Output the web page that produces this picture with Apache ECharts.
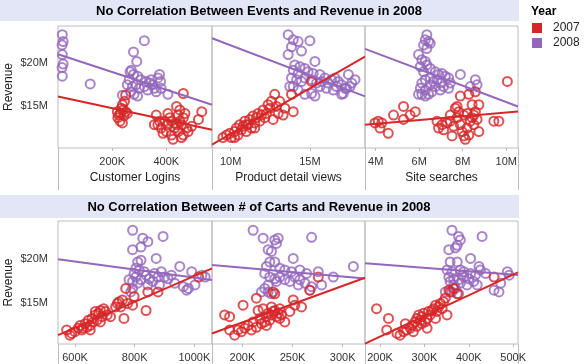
<!DOCTYPE html>
<html>
<head>
<meta charset="utf-8">
<script src="https://cdn.jsdelivr.net/npm/echarts@6/dist/echarts.min.js"></script>
<style>
html,body{margin:0;padding:0;background:#fff;}
#c{width:584px;height:364px;}
</style>
</head>
<body>
<div id="c"></div>
<script>
// ---------- data (x in K or M units, revenue in $M) ----------
var years = ['2007', '2008'];
var rowTitles = ['No Correlation Between Events and Revenue in 2008', 'No Correlation Between # of Carts and Revenue in 2008'];
var measureNames = ['Customer Logins', 'Product detail views', 'Site searches', '', '', ''];
var revenueTicks = [15, 20];
var loginsTicks = [200, 400];
var viewsTicks = [10, 15];
var searchTicks = [4, 6, 8, 10];
var carts1Ticks = [600, 800, 1000];
var carts2Ticks = [200, 250, 300];
var carts3Ticks = [200, 300, 400, 500];

var logins2007 = [[250,16.3],[246,15.6],[238,15.2],[241,14.6],[231,14.2],[225,14.0],[221,13.7],[229,13.3],[238,13.1],[250,14.4],[256,14.2],[244,13.9],[219,14.4],[234,14.8],[363,14.0],[369,12.9],[381,12.5],[394,13.3],[400,12.1],[406,12.9],[413,13.7],[419,11.7],[425,11.2],[431,12.5],[438,15.0],[444,14.0],[450,13.3],[456,12.9],[431,13.1],[463,13.7],[469,14.2],[475,12.5],[481,12.1],[494,12.7],[463,11.7],[444,12.1],[406,14.2],[388,11.9],[456,11.4],[531,14.4],[519,13.5],[463,16.5],[419,13.3],[438,12.9],[375,13.3],[356,12.9],[450,14.6]];
var logins2008 = [[16,23.3],[19,22.5],[15,22.1],[16,21.0],[19,19.9],[15,19.5],[16,18.5],[119,17.6],[319,22.6],[279,21.3],[291,20.2],[271,19.2],[266,19.0],[279,18.7],[294,18.5],[256,17.5],[275,17.3],[288,17.5],[300,17.1],[269,16.7],[281,16.4],[294,16.2],[238,16.3],[263,18.1],[306,18.1],[325,17.9],[319,17.3],[338,17.7],[344,18.1],[350,17.5],[356,17.1],[369,18.3],[375,18.7],[379,17.9],[363,16.7],[381,17.1],[406,16.4],[331,16.9]];
var views2007 = [[9.51,11.4],[9.73,11.7],[9.94,11.9],[10.04,11.4],[10.25,12.1],[10.36,12.5],[10.46,11.7],[10.57,12.9],[10.68,12.3],[10.78,12.7],[10.89,13.3],[10.99,12.1],[11.10,12.9],[11.20,13.5],[11.31,12.5],[11.41,13.9],[11.52,13.1],[11.62,13.7],[11.73,14.2],[11.84,13.3],[11.94,14.0],[12.05,14.6],[12.15,13.7],[12.26,14.2],[12.36,15.2],[12.47,14.8],[12.57,15.6],[12.68,13.5],[12.78,16.4],[12.89,15.0],[13.0,14.2],[13.10,15.6],[13.31,14.0],[13.42,14.8],[13.84,16.4],[13.95,14.4],[15.11,17.9],[10.25,11.4],[10.99,12.9],[11.52,12.5]];
var views2008 = [[13.63,23.3],[13.95,22.7],[14.26,22.5],[15.0,22.6],[13.84,21.9],[14.47,21.4],[13.63,21.0],[14.05,19.8],[14.37,19.6],[14.68,19.4],[13.95,19.2],[14.26,18.8],[14.89,19.0],[15.21,18.8],[15.32,20.2],[15.63,18.7],[13.84,18.3],[14.16,18.1],[14.47,17.9],[14.68,18.3],[15.11,18.1],[15.42,17.7],[15.74,17.9],[15.95,18.3],[16.16,17.7],[16.37,18.1],[16.58,18.3],[16.79,17.9],[17.0,17.5],[17.22,17.1],[17.43,18.7],[17.64,17.7],[17.85,18.1],[17.53,17.3],[17.0,16.4],[16.48,16.9],[16.05,17.1],[15.63,17.3],[15.11,16.5],[14.68,16.4],[14.26,16.9],[13.95,17.3],[13.73,17.3],[15.32,16.2],[16.69,17.3],[17.11,16.5],[17.32,17.1]];
var search2007 = [[10.05,17.9],[3.97,13.1],[4.12,13.3],[4.28,13.1],[4.2,12.5],[4.58,11.9],[4.82,14.0],[5.28,15.0],[5.28,13.5],[5.58,14.0],[5.82,14.4],[6.82,13.3],[6.89,12.5],[7.05,12.9],[7.12,12.3],[7.28,13.1],[7.43,13.3],[7.51,11.6],[7.58,12.7],[7.66,14.8],[7.74,13.7],[7.82,14.4],[7.89,12.9],[7.97,12.1],[8.05,11.6],[8.12,11.2],[8.2,12.5],[8.28,11.7],[8.35,13.3],[8.43,13.7],[8.51,14.0],[8.58,14.4],[8.66,13.5],[8.74,12.1],[8.43,15.2],[8.58,16.7],[8.28,16.4],[7.89,16.2],[8.74,15.2],[7.74,15.0],[8.05,14.0],[8.2,14.2],[8.51,12.9],[9.43,13.3],[9.66,13.3],[7.43,14.0]];
var search2008 = [[6.35,23.3],[6.28,22.7],[6.43,22.5],[6.51,22.3],[6.2,22.1],[6.35,21.7],[5.97,21.0],[6.12,20.4],[6.28,20.2],[6.05,19.6],[6.2,19.0],[6.35,19.8],[6.51,19.4],[6.74,19.0],[6.89,18.7],[7.05,18.8],[7.2,18.5],[7.35,18.3],[7.43,17.7],[7.35,17.1],[7.12,17.3],[6.97,17.7],[6.66,17.9],[6.51,18.3],[6.28,18.1],[6.12,17.7],[6.05,17.1],[6.28,16.9],[6.51,17.5],[6.74,17.3],[6.97,16.9],[6.82,18.1],[6.43,16.4],[6.12,16.4],[5.97,16.4],[7.89,18.7],[8.58,18.1],[8.35,17.3],[8.66,17.5],[6.58,16.7],[6.28,16.2]];
var carts1_2007 = [[572,12.0],[583,11.4],[589,11.6],[600,11.8],[611,12.2],[617,12.5],[623,12.0],[634,12.7],[640,12.3],[645,13.1],[651,12.5],[657,13.3],[662,12.9],[668,13.7],[674,13.1],[679,13.9],[685,14.2],[691,13.5],[696,14.4],[702,14.1],[708,13.7],[719,13.5],[736,14.6],[742,15.0],[747,15.2],[753,14.6],[759,15.4],[764,13.3],[770,16.7],[776,15.0],[793,14.8],[798,15.8],[838,14.2],[844,16.3],[878,16.3],[1014,18.0],[651,12.0],[685,12.9],[668,14.1],[628,12.2]];
var carts1_2008 = [[793,23.3],[827,22.4],[844,22.0],[895,22.6],[821,21.4],[793,21.1],[872,20.1],[810,19.7],[821,19.9],[804,19.0],[815,18.8],[832,18.6],[798,18.4],[781,17.7],[793,17.5],[804,18.0],[810,17.3],[821,17.7],[838,18.2],[849,17.8],[861,17.5],[878,18.0],[889,18.6],[900,18.0],[912,17.8],[923,18.2],[934,17.3],[951,19.2],[963,16.9],[974,16.5],[980,16.7],[991,18.6],[1002,17.1],[1025,18.2],[1036,18.0],[883,17.1],[844,17.1],[866,18.4],[793,16.7],[787,16.3]];
var carts2_2007 = [[275.7,18.0],[267.3,16.5],[230.7,16.3],[232.3,16.1],[200.7,14.8],[214,15.6],[182.3,13.7],[187.3,13.5],[187.3,12.0],[192.3,11.4],[195.7,12.0],[199,11.8],[202.3,12.2],[205.7,12.5],[209,12.0],[210.7,12.9],[214,12.3],[217.3,13.3],[219,12.7],[222.3,12.9],[224,13.5],[225.7,13.9],[227.3,13.1],[229,13.7],[230.7,14.1],[232.3,14.2],[234,13.5],[235.7,13.9],[237.3,14.4],[239,13.7],[242.3,12.9],[247.3,14.1],[250.7,15.4],[252.3,14.8],[259,14.6],[220.7,14.4],[229,14.6],[215.7,14.2],[224,12.5],[237.3,13.3]];
var carts2_2008 = [[210.7,23.3],[220.7,22.4],[232.3,22.2],[235.7,22.4],[234,21.8],[225.7,21.1],[229,20.9],[250.7,20.1],[269,22.5],[227.3,19.7],[232.3,19.7],[224,19.2],[237.3,19.0],[242.3,18.8],[249,18.6],[257.3,18.8],[264,18.4],[275.7,18.6],[310.7,19.2],[290.7,18.0],[222.3,18.4],[227.3,18.0],[232.3,17.8],[234,17.5],[225.7,17.1],[222.3,16.7],[219,16.3],[225.7,16.3],[229,16.1],[242.3,17.7],[247.3,17.5],[252.3,18.0],[257.3,17.7],[262.3,17.3],[269,16.9],[279,17.1],[255.7,17.1],[267.3,16.5],[237.3,18.0]];
var carts3_2007 = [[192,14.4],[219,13.3],[215,12.0],[238,11.6],[245,11.4],[253,11.8],[260,12.0],[257,12.7],[268,12.2],[272,12.5],[279,12.9],[283,13.3],[287,13.7],[291,13.1],[294,13.5],[298,13.9],[302,12.9],[306,12.2],[309,14.1],[313,13.7],[317,14.2],[321,14.4],[325,14.8],[328,14.1],[336,15.0],[340,14.4],[343,15.2],[347,15.6],[355,16.5],[358,16.3],[366,16.7],[374,16.1],[351,13.7],[306,13.3],[294,12.7],[275,11.8],[457,18.0],[325,13.3],[283,12.4],[332,14.6]];
var carts3_2008 = [[362,23.3],[377,22.6],[381,22.2],[374,21.6],[430,22.6],[355,21.1],[370,21.3],[404,20.1],[358,19.7],[374,19.7],[351,18.8],[362,18.6],[381,18.8],[389,18.6],[423,19.2],[415,18.2],[355,18.0],[366,17.8],[377,17.7],[389,18.0],[400,17.8],[411,17.5],[419,17.1],[396,17.1],[381,17.3],[358,17.5],[347,16.3],[362,16.3],[370,16.7],[377,16.1],[487,18.6],[491,18.2],[472,17.3],[457,16.5],[468,16.3],[438,18.4],[385,18.2],[426,18.8],[404,18.4],[366,17.1]];

// trend line end points
var loginsTrend2007 = [[0,16.16],[569,12.32]];
var loginsTrend2008 = [[0,21.04],[569,15.2]];
var viewsTrend2007 = [[8.82,10.59],[18.48,20.77]];
var viewsTrend2008 = [[8.82,22.88],[18.48,16.16]];
var searchTrend2007 = [[3.51,12.9],[10.54,14.43]];
var searchTrend2008 = [[3.51,21.65],[10.54,15.0]];
var carts1Trend2007 = [[543,11.4],[1059,18.98]];
var carts1Trend2008 = [[543,20.0],[1059,17.65]];
var carts2Trend2007 = [[169.7,11.59],[322.3,17.92]];
var carts2Trend2008 = [[169.7,19.36],[322.3,17.84]];
var carts3Trend2007 = [[166,10.45],[511,18.52]];
var carts3Trend2008 = [[166,19.55],[511,18.22]];

// ---------- layout / styling ----------
var RED = '#d62728', PURPLE = '#9467bd', GRAY = '#bcbcbc';
var FONT = '"Liberation Sans", Arial, sans-serif';
var colLeft = [58, 212, 365], colW = [154, 153, 153];
var rowTop = [26, 221], rowH = [122, 123];
var yRange = [[10.2, 24.3], [10.4, 24.35]];

var panels = [
  {row:0,col:0,min:0,max:569,ticks:loginsTicks,unit:'K',d7:logins2007,d8:logins2008,t7:loginsTrend2007,t8:loginsTrend2008},
  {row:0,col:1,min:8.82,max:18.48,ticks:viewsTicks,unit:'M',d7:views2007,d8:views2008,t7:viewsTrend2007,t8:viewsTrend2008},
  {row:0,col:2,min:3.51,max:10.54,ticks:searchTicks,unit:'M',d7:search2007,d8:search2008,t7:searchTrend2007,t8:searchTrend2008},
  {row:1,col:0,min:543,max:1059,ticks:carts1Ticks,unit:'K',d7:carts1_2007,d8:carts1_2008,t7:carts1Trend2007,t8:carts1Trend2008},
  {row:1,col:1,min:169.7,max:322.3,ticks:carts2Ticks,unit:'K',d7:carts2_2007,d8:carts2_2008,t7:carts2Trend2007,t8:carts2Trend2008},
  {row:1,col:2,min:166,max:511,ticks:carts3Ticks,unit:'K',d7:carts3_2007,d8:carts3_2008,t7:carts3Trend2007,t8:carts3Trend2008}
];

var grids = [], xAxes = [], yAxes = [], series = [];
panels.forEach(function (p, i) {
  grids.push({left: colLeft[p.col], top: rowTop[p.row], width: colW[p.col], height: rowH[p.row],
    show: true, borderColor: GRAY, borderWidth: 1, containLabel: false});
  xAxes.push({type: 'value', gridIndex: i, min: p.min, max: p.max,
    name: measureNames[i], nameLocation: 'middle', nameGap: 24,
    nameTextStyle: {fontSize: 12, color: '#222', fontFamily: FONT},
    axisLine: {show: false}, splitLine: {show: false},
    axisTick: {show: true, length: 3, customValues: p.ticks, lineStyle: {color: GRAY}},
    axisLabel: {customValues: p.ticks, margin: 8, fontSize: 11, color: '#333', fontFamily: FONT,
      formatter: (function (u) { return function (v) { return v + u; }; })(p.unit)}});
  yAxes.push({type: 'value', gridIndex: i, min: yRange[p.row][0], max: yRange[p.row][1],
    name: p.col === 0 ? 'Revenue' : '', nameLocation: 'middle', nameGap: 43, nameRotate: 90,
    nameTextStyle: {fontSize: 12, color: '#222', fontFamily: FONT},
    axisLine: {show: false}, splitLine: {show: false}, axisTick: {show: false},
    axisLabel: {show: p.col === 0, customValues: revenueTicks, margin: 10, fontSize: 11, color: '#333', fontFamily: FONT,
      formatter: function (v) { return '$' + v + 'M'; }}});
  [[p.d8, PURPLE, years[1]], [p.d7, RED, years[0]]].forEach(function (s) {
    series.push({type: 'scatter', name: s[2], xAxisIndex: i, yAxisIndex: i, data: s[0],
      symbol: 'circle', symbolSize: 9, silent: true,
      itemStyle: {color: 'rgba(0,0,0,0)', borderColor: s[1], borderWidth: 2}});
  });
  [[p.t8, PURPLE, years[1]], [p.t7, RED, years[0]]].forEach(function (s) {
    series.push({type: 'line', name: s[2] + ' trend', xAxisIndex: i, yAxisIndex: i, data: s[0],
      showSymbol: false, symbol: 'none', silent: true, z: 3,
      lineStyle: {color: s[1], width: 2}});
  });
});

var graphics = [
  {type: 'rect', shape: {x: 0, y: 0, width: 519, height: 21}, style: {fill: '#e3e6f7'}, silent: true},
  {type: 'rect', shape: {x: 0, y: 195, width: 519, height: 23}, style: {fill: '#e3e6f7'}, silent: true},
  {type: 'text', x: 259, y: 11, style: {text: rowTitles[0], textAlign: 'center', textVerticalAlign: 'middle', font: 'bold 13px ' + FONT, fill: '#000'}, silent: true},
  {type: 'text', x: 259, y: 207, style: {text: rowTitles[1], textAlign: 'center', textVerticalAlign: 'middle', font: 'bold 13px ' + FONT, fill: '#000'}, silent: true},
  {type: 'text', x: 531, y: 12, style: {text: 'Year', textAlign: 'left', textVerticalAlign: 'middle', font: 'bold 12px ' + FONT, fill: '#000'}, silent: true}
];
// legend swatches
[[RED, years[0]], [PURPLE, years[1]]].forEach(function (l, k) {
  graphics.push({type: 'rect', shape: {x: 532, y: 23 + k * 15, width: 10, height: 10}, style: {fill: l[0]}, silent: true});
  graphics.push({type: 'text', x: 553, y: 28 + k * 15, style: {text: l[1], textAlign: 'left', textVerticalAlign: 'middle', font: '12px ' + FONT, fill: '#222'}, silent: true});
});
[58, 212, 365, 518].forEach(function (x) {
  graphics.push({type: 'line', shape: {x1: x + 0.5, y1: 148, x2: x + 0.5, y2: 190}, style: {stroke: GRAY, lineWidth: 1}, silent: true});
  graphics.push({type: 'line', shape: {x1: x + 0.5, y1: 344, x2: x + 0.5, y2: 364}, style: {stroke: GRAY, lineWidth: 1}, silent: true});
});

var chart = echarts.init(document.getElementById('c'), null, {renderer: 'canvas'});
chart.setOption({
  animation: false,
  backgroundColor: '#fff',
  textStyle: {fontFamily: FONT},
  grid: grids, xAxis: xAxes, yAxis: yAxes, series: series,
  graphic: graphics
});
</script>
</body>
</html>
